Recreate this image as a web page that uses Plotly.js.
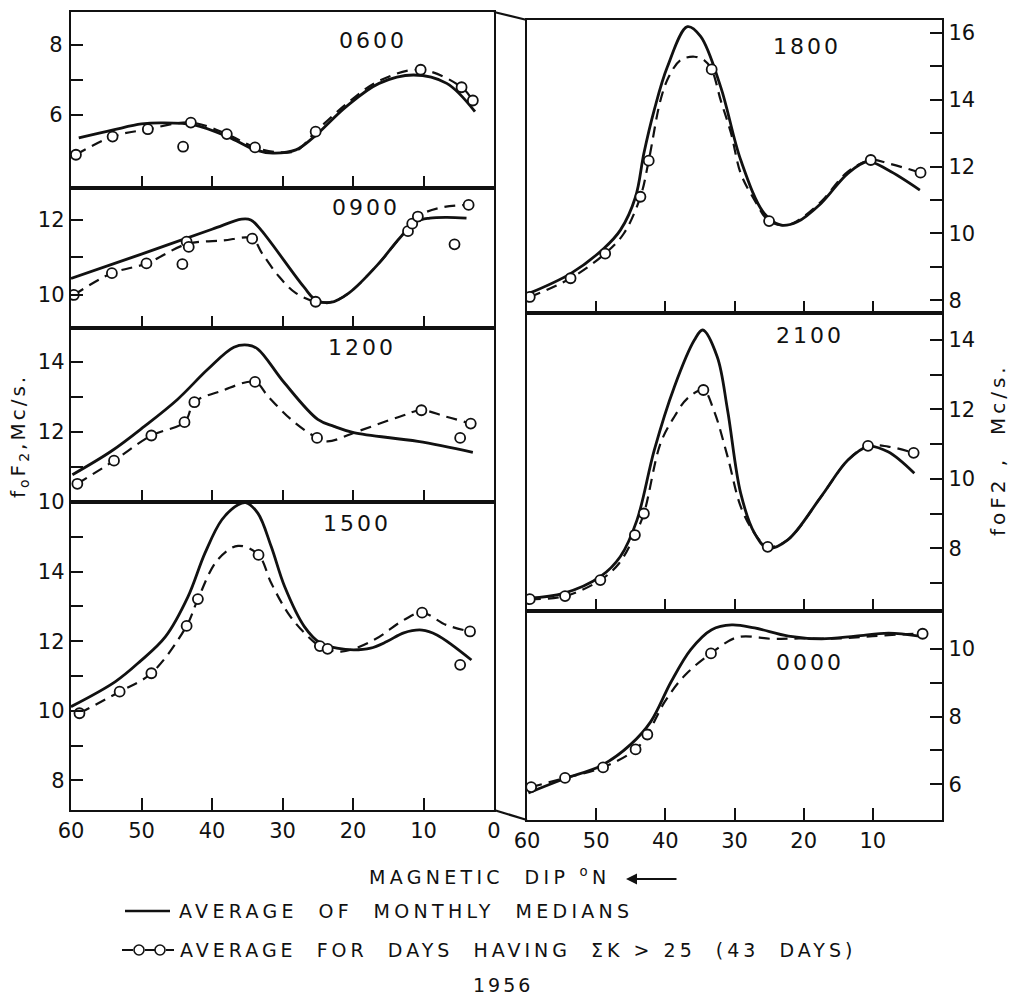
<!DOCTYPE html>
<html><head><meta charset="utf-8">
<script src="https://cdn.plot.ly/plotly-3.0.1.min.js"></script>
<style>
html,body{margin:0;padding:0;background:#fff;}
#chart{width:1015px;height:998px;}
.annotation-text{letter-spacing:3px;}
.xtick text,.ytick text{letter-spacing:2px;}
</style></head><body><div id="chart"></div><script>
// ---------- DATA (magnetic dip in degrees N, foF2 in Mc/s) ----------
// 0600
const dip0600Solid = [58.9, 54, 50, 47.2, 42.4, 37.7, 33.9, 31.4, 28.1, 25.7, 21, 16.3, 11.4, 6.7, 2.7];
const fof0600Solid = [5.34, 5.57, 5.74, 5.77, 5.71, 5.37, 5.0, 4.91, 5.0, 5.34, 6.23, 6.9, 7.14, 6.9, 6.09];
const dip0600Dash = [59.3, 54.1, 49.1, 43.0, 37.9, 33.9, 30.5, 28, 25.3, 21, 16.3, 10.4, 4.6, 3.0];
const fof0600Dash = [4.86, 5.38, 5.59, 5.78, 5.45, 5.07, 4.93, 4.98, 5.52, 6.3, 6.97, 7.29, 6.79, 6.41];
const dip0600Circ = [59.3, 54.1, 49.1, 44.1, 43.0, 37.9, 33.9, 25.3, 10.4, 4.6, 3.0];
const fof0600Circ = [4.86, 5.38, 5.59, 5.09, 5.78, 5.45, 5.07, 5.52, 7.29, 6.79, 6.41];
// 0900
const dip0900Solid = [60, 50, 40, 35.8, 34.5, 33.0, 27.0, 25.3, 23.2, 20.6, 16.3, 13.4, 11, 9.1, 6.7, 3.9];
const fof0900Solid = [10.44, 11.09, 11.75, 12.02, 12.0, 11.72, 10.22, 9.87, 9.8, 10.05, 10.85, 11.51, 11.96, 12.05, 12.07, 12.05];
const dip0900Dash = [59.6, 54.2, 49.3, 43.5, 38.5, 34.3, 32.9, 30.5, 28.1, 25.3, 22.9, 20.6, 16.3, 13.4, 10.8, 7.7, 3.6];
const fof0900Dash = [10.0, 10.58, 10.84, 11.36, 11.45, 11.5, 11.11, 10.49, 10.05, 9.82, 9.82, 10.05, 10.85, 11.51, 12.09, 12.32, 12.4];
const dip0900Circ = [59.6, 54.2, 49.3, 44.2, 43.6, 43.3, 34.3, 25.3, 12.2, 11.6, 10.8, 5.6, 3.6];
const fof0900Circ = [10.0, 10.58, 10.84, 10.82, 11.42, 11.28, 11.5, 9.82, 11.7, 11.9, 12.09, 11.35, 12.4];
// 1200
const dip1200Solid = [59.8, 54.3, 49.6, 44.9, 40.6, 36.9, 34.9, 33.5, 29.8, 25.0, 22.7, 19.9, 10.8, 3.0];
const fof1200Solid = [10.78, 11.45, 12.16, 12.93, 13.79, 14.42, 14.48, 14.37, 13.42, 12.36, 12.16, 11.98, 11.73, 11.42];
const dip1200Dash = [59.1, 53.9, 48.6, 43.9, 42.5, 38.7, 33.9, 32.1, 28.8, 25.1, 23.6, 19.3, 13.2, 10.3, 7.0, 3.3];
const fof1200Dash = [10.52, 11.18, 11.9, 12.28, 12.85, 13.17, 13.43, 13.03, 12.36, 11.83, 11.73, 12.02, 12.45, 12.62, 12.45, 12.24];
const dip1200Circ = [59.1, 53.9, 48.6, 43.9, 42.5, 33.9, 25.1, 10.3, 4.8, 3.3];
const fof1200Circ = [10.52, 11.18, 11.9, 12.28, 12.85, 13.43, 11.83, 12.62, 11.83, 12.24];
// 1500
const dip1500Solid = [60, 53.7, 50.2, 46.6, 43.4, 41.0, 38.6, 36.3, 35.2, 33.5, 31.6, 29.7, 26.9, 24.6, 22.3, 19.9, 17.5, 15.2, 12.8, 10.2, 8.1, 3.2];
const fof1500Solid = [10.12, 10.84, 11.42, 12.13, 13.28, 14.53, 15.49, 15.92, 15.98, 15.68, 14.72, 13.57, 12.42, 11.94, 11.8, 11.75, 11.8, 11.99, 12.24, 12.32, 12.18, 11.46];
const dip1500Dash = [58.8, 53.1, 48.6, 43.6, 42.0, 39.2, 36.3, 33.4, 31.6, 29.2, 26.9, 24.7, 21.7, 17.0, 12.8, 10.2, 6.8, 3.4];
const fof1500Dash = [9.93, 10.55, 11.08, 12.44, 13.21, 14.34, 14.74, 14.48, 13.67, 12.8, 12.24, 11.86, 11.7, 12.04, 12.61, 12.82, 12.47, 12.28];
const dip1500Circ = [58.8, 53.1, 48.6, 43.6, 42.0, 33.4, 24.7, 23.6, 10.2, 4.8, 3.4];
const fof1500Circ = [9.93, 10.55, 11.08, 12.44, 13.21, 14.48, 11.86, 11.78, 12.82, 11.32, 12.28];
// 1800
const dip1800Solid = [59.8, 53.7, 48.9, 46.5, 44.3, 43.1, 41.6, 39.7, 36.8, 34.9, 32.0, 29.1, 25.7, 23.3, 20.9, 17.5, 13.6, 10.7, 7.8, 3.2];
const fof1800Solid = [8.2, 8.8, 9.55, 10.1, 11.1, 12.4, 13.7, 14.99, 16.19, 15.9, 14.39, 12.2, 10.6, 10.25, 10.35, 10.9, 11.8, 12.15, 11.9, 11.3];
const dip1800Dash = [59.6, 53.7, 48.7, 46.0, 43.6, 42.4, 40.7, 39.5, 37.8, 35.8, 34.4, 33.3, 32.0, 30.5, 29.1, 27.1, 25.0, 22.5, 20.9, 17.5, 13.6, 10.3, 7.8, 3.1];
const fof1800Dash = [8.1, 8.66, 9.4, 10.0, 11.1, 12.18, 13.99, 14.69, 15.19, 15.29, 15.19, 14.91, 13.99, 13.0, 11.8, 11.0, 10.37, 10.25, 10.38, 10.95, 11.85, 12.2, 12.1, 11.82];
const dip1800Circ = [59.6, 53.7, 48.7, 43.6, 42.4, 33.3, 25.0, 10.3, 3.1];
const fof1800Circ = [8.1, 8.66, 9.4, 11.1, 12.18, 14.91, 10.37, 12.2, 11.82];
// 2100
const dip2100Solid = [59.8, 54.7, 49.4, 46.5, 44.1, 41.6, 38.7, 35.8, 34.6, 32.5, 31.0, 29.1, 27.1, 25.2, 22.3, 17.5, 13.6, 10.7, 7.8, 4.0];
const fof2100Solid = [6.56, 6.7, 7.18, 7.76, 8.81, 10.83, 12.65, 14.0, 14.29, 13.52, 11.98, 9.58, 8.43, 8.0, 8.24, 9.48, 10.54, 10.93, 10.78, 10.16];
const dip2100Dash = [59.6, 54.5, 49.4, 46.7, 44.4, 43.1, 40.7, 38.7, 36.8, 34.5, 33.0, 31.0, 29.1, 27.1, 25.2, 22.3, 17.5, 13.6, 10.7, 7.8, 4.1];
const fof2100Dash = [6.53, 6.62, 7.08, 7.56, 8.38, 9.0, 11.02, 11.79, 12.32, 12.56, 11.98, 10.64, 9.2, 8.43, 8.04, 8.24, 9.48, 10.54, 10.95, 10.93, 10.75];
const dip2100Circ = [59.6, 54.5, 49.4, 44.4, 43.1, 34.5, 25.2, 10.7, 4.1];
const fof2100Circ = [6.53, 6.62, 7.08, 8.38, 9.0, 12.56, 8.04, 10.95, 10.75];
// 0000
const dip0000Solid = [59.8, 54.7, 49.3, 45.0, 42.1, 39.2, 36.3, 33.3, 30.4, 27.1, 22.2, 17.4, 12.5, 7.7, 3.3];
const fof0000Solid = [5.75, 6.16, 6.55, 7.18, 7.85, 9.01, 9.98, 10.56, 10.7, 10.61, 10.37, 10.29, 10.37, 10.46, 10.37];
const dip0000Dash = [59.4, 54.5, 49.0, 44.3, 42.6, 40.1, 37.2, 33.4, 29.5, 24.6, 20.7, 15, 10, 5, 2.8];
const fof0000Dash = [5.92, 6.19, 6.5, 7.03, 7.47, 8.43, 9.21, 9.86, 10.34, 10.29, 10.3, 10.3, 10.37, 10.43, 10.44];
const dip0000Circ = [59.4, 54.5, 49.0, 44.3, 42.6, 33.4, 2.8];
const fof0000Circ = [5.92, 6.19, 6.5, 7.03, 7.47, 9.86, 10.44];

// tick values / labels
const yTicks0600 = [6, 7, 8], yLab0600 = ['6', '', '8'];
const yTicks0900 = [10, 11, 12], yLab0900 = ['10', '', '12'];
const yTicks1200 = [10, 11, 12, 13, 14], yLab1200 = ['10', '', '12', '', '14'];
const yTicks1500 = [8, 9, 10, 11, 12, 13, 14, 15], yLab1500 = ['8', '', '10', '', '12', '', '14', ''];
const yTicks1800 = [8, 9, 10, 11, 12, 13, 14, 15, 16], yLab1800 = ['8', '', '10', '', '12', '', '14', '', '16'];
const yTicks2100 = [7, 8, 9, 10, 11, 12, 13, 14], yLab2100 = ['', '8', '', '10', '', '12', '', '14'];
const yTicks0000 = [6, 7, 8, 9, 10], yLab0000 = ['6', '', '8', '', '10'];
const xTicksLeft = [60, 50, 40, 30, 20, 10, 0], xLabLeft = ['60', '50', '40', '30', '20', '10', '0'];
const xTicksRight = [60, 50, 40, 30, 20, 10], xLabRight = ['60', '50', '40', '30', '20', '10'];
const hours = ['0600', '0900', '1200', '1500', '1800', '2100', '0000'];

// ---------- LAYOUT HELPERS ----------
const W = 1015, H = 998;
const PX = p => p / W, PY = p => 1 - p / H;
const INK = '#111';
const FONT = 'DejaVu Sans';
const spaced = (t, s) => '<span style="letter-spacing:' + s + 'px">' + t + '</span>';

const panels = [
  {name: hours[0], sx: dip0600Solid, sy: fof0600Solid, dx: dip0600Dash, dy: fof0600Dash, cx: dip0600Circ, cy: fof0600Circ, col: 'L', top: 12, bot: 188, yr: [3.91, 8.94], yt: yTicks0600, yl: yLab0600, lab: [373, 40]},
  {name: hours[1], sx: dip0900Solid, sy: fof0900Solid, dx: dip0900Dash, dy: fof0900Dash, cx: dip0900Circ, cy: fof0900Circ, col: 'L', top: 188, bot: 328, yr: [9.12, 12.85], yt: yTicks0900, yl: yLab0900, lab: [366, 207]},
  {name: hours[2], sx: dip1200Solid, sy: fof1200Solid, dx: dip1200Dash, dy: fof1200Dash, cx: dip1200Circ, cy: fof1200Circ, col: 'L', top: 328, bot: 502, yr: [10, 14.97], yt: yTicks1200, yl: yLab1200, lab: [362, 347]},
  {name: hours[3], sx: dip1500Solid, sy: fof1500Solid, dx: dip1500Dash, dy: fof1500Dash, cx: dip1500Circ, cy: fof1500Circ, col: 'L', top: 502, bot: 810, yr: [7.15, 16.0], yt: yTicks1500, yl: yLab1500, lab: [357, 523], bottom: true},
  {name: hours[4], sx: dip1800Solid, sy: fof1800Solid, dx: dip1800Dash, dy: fof1800Dash, cx: dip1800Circ, cy: fof1800Circ, col: 'R', top: 20, bot: 313, yr: [7.62, 16.39], yt: yTicks1800, yl: yLab1800, lab: [807, 47]},
  {name: hours[5], sx: dip2100Solid, sy: fof2100Solid, dx: dip2100Dash, dy: fof2100Dash, cx: dip2100Circ, cy: fof2100Circ, col: 'R', top: 313, bot: 611, yr: [6.19, 14.78], yt: yTicks2100, yl: yLab2100, lab: [810, 335]},
  {name: hours[6], sx: dip0000Solid, sy: fof0000Solid, dx: dip0000Dash, dy: fof0000Dash, cx: dip0000Circ, cy: fof0000Circ, col: 'R', top: 611, bot: 820, yr: [4.95, 11.11], yt: yTicks0000, yl: yLab0000, lab: [810, 662], bottom: true}
];

const colX = {L: [71, 494], R: [527, 942]};
const traces = [];
const layout = {
  width: W, height: H, margin: {l: 0, r: 0, t: 0, b: 0},
  paper_bgcolor: '#fff', plot_bgcolor: '#fff', showlegend: false,
  font: {family: FONT, color: INK, size: 21},
  annotations: [], shapes: []
};

panels.forEach((p, i) => {
  const n = i + 1;
  const xa = n === 1 ? 'x' : 'x' + n, ya = n === 1 ? 'y' : 'y' + n;
  const xk = n === 1 ? 'xaxis' : 'xaxis' + n, yk = n === 1 ? 'yaxis' : 'yaxis' + n;
  traces.push({x: p.sx, y: p.sy, xaxis: xa, yaxis: ya, mode: 'lines', line: {color: INK, width: 2.8, shape: 'spline', smoothing: 1}, hoverinfo: 'skip'});
  traces.push({x: p.dx, y: p.dy, xaxis: xa, yaxis: ya, mode: 'lines', line: {color: INK, width: 2.2, dash: '11px,7px', shape: 'spline', smoothing: 1}, hoverinfo: 'skip'});
  traces.push({x: p.cx, y: p.cy, xaxis: xa, yaxis: ya, mode: 'markers', marker: {symbol: 'circle', size: 10, color: '#fff', line: {color: INK, width: 1.8}}, hoverinfo: 'skip'});
  const cx = colX[p.col];
  const isLeft = p.col === 'L';
  layout[xk] = {
    domain: [PX(cx[0]), PX(cx[1])], range: [60, 0], anchor: ya,
    showline: true, mirror: true, linecolor: INK, linewidth: 2.2,
    showgrid: false, zeroline: false, ticks: 'inside', ticklen: 12, tickwidth: 2, tickcolor: INK,
    tickmode: 'array',
    tickvals: p.bottom ? (isLeft ? xTicksLeft : xTicksRight) : [50, 40, 30, 20, 10],
    ticktext: p.bottom ? (isLeft ? xLabLeft : xLabRight) : ['', '', '', '', ''],
    showticklabels: !!p.bottom, ticklabelstandoff: 1,
    tickfont: {family: FONT, size: 21, color: INK}, fixedrange: true
  };
  layout[yk] = {
    domain: [PY(p.bot), PY(p.top)], range: p.yr, anchor: xa, side: isLeft ? 'left' : 'right',
    showline: true, mirror: true, linecolor: INK, linewidth: 2.2,
    showgrid: false, zeroline: false, ticks: 'inside', ticklen: 12, tickwidth: 2, tickcolor: INK,
    tickmode: 'array', tickvals: p.yt, ticktext: p.yl, ticklabelstandoff: 0,
    tickfont: {family: FONT, size: 21, color: INK}, fixedrange: true
  };
  layout.annotations.push({xref: 'paper', yref: 'paper', x: PX(p.lab[0]), y: PY(p.lab[1]), text: p.name, showarrow: false, xanchor: 'center', yanchor: 'middle', font: {family: FONT, size: 22, color: INK}});
});

// axis titles
layout.annotations.push({xref: 'paper', yref: 'paper', x: PX(19), y: PY(436), text: spaced('f<sub>o</sub>F<sub>2</sub>,Mc/s.', 3), textangle: -90, showarrow: false, xanchor: 'center', yanchor: 'middle', font: {family: FONT, size: 20, color: INK}});
layout.annotations.push({xref: 'paper', yref: 'paper', x: PX(998), y: PY(450), text: spaced('foF2 ,  Mc/s.', 4), textangle: -90, showarrow: false, xanchor: 'center', yanchor: 'middle', font: {family: FONT, size: 20, color: INK}});
// bottom texts
layout.annotations.push({xref: 'paper', yref: 'paper', x: PX(367), y: PY(876), text: spaced('MAGNETIC  DIP <sup>o</sup>N', 4.3), showarrow: false, xanchor: 'left', yanchor: 'middle', font: {family: FONT, size: 19, color: INK}});
layout.annotations.push({xref: 'paper', yref: 'paper', x: PX(626), y: PY(879), ax: 52, ay: 0, text: '', showarrow: true, arrowhead: 2, arrowsize: 1, arrowwidth: 2.2, arrowcolor: INK});
layout.annotations.push({xref: 'paper', yref: 'paper', x: PX(177), y: PY(911), text: spaced('AVERAGE  OF  MONTHLY  MEDIANS', 4.3), showarrow: false, xanchor: 'left', yanchor: 'middle', font: {family: FONT, size: 19, color: INK}});
layout.annotations.push({xref: 'paper', yref: 'paper', x: PX(178), y: PY(950), text: spaced('AVERAGE  FOR  DAYS  HAVING  \u03A3K > 25  (43  DAYS)', 4), showarrow: false, xanchor: 'left', yanchor: 'middle', font: {family: FONT, size: 19, color: INK}});
layout.annotations.push({xref: 'paper', yref: 'paper', x: PX(471), y: PY(985), text: '1956', showarrow: false, xanchor: 'left', yanchor: 'middle', font: {family: FONT, size: 19, color: INK}});

// decorative frame joins across the gap and legend glyphs
const ln = (x0, y0, x1, y1, w, dash) => ({type: 'line', xref: 'paper', yref: 'paper', x0: PX(x0), y0: PY(y0), x1: PX(x1), y1: PY(y1), line: {color: INK, width: w, dash: dash || 'solid'}});
layout.shapes.push(ln(494, 12, 527, 20, 2.2));
layout.shapes.push(ln(494, 810, 527, 820, 2.2));
layout.shapes.push(ln(125, 911, 170, 911, 2.6));
layout.shapes.push(ln(122, 950, 133, 950, 2));
layout.shapes.push(ln(145, 950, 155, 950, 2));
layout.shapes.push(ln(166, 950, 174, 950, 2));
[139, 160].forEach(c => layout.shapes.push({type: 'circle', xref: 'paper', yref: 'paper', x0: PX(c - 5), x1: PX(c + 5), y0: PY(955), y1: PY(945), line: {color: INK, width: 1.6}, fillcolor: '#fff'}));

Plotly.newPlot('chart', traces, layout, {staticPlot: true, displayModeBar: false});
</script></body></html>
